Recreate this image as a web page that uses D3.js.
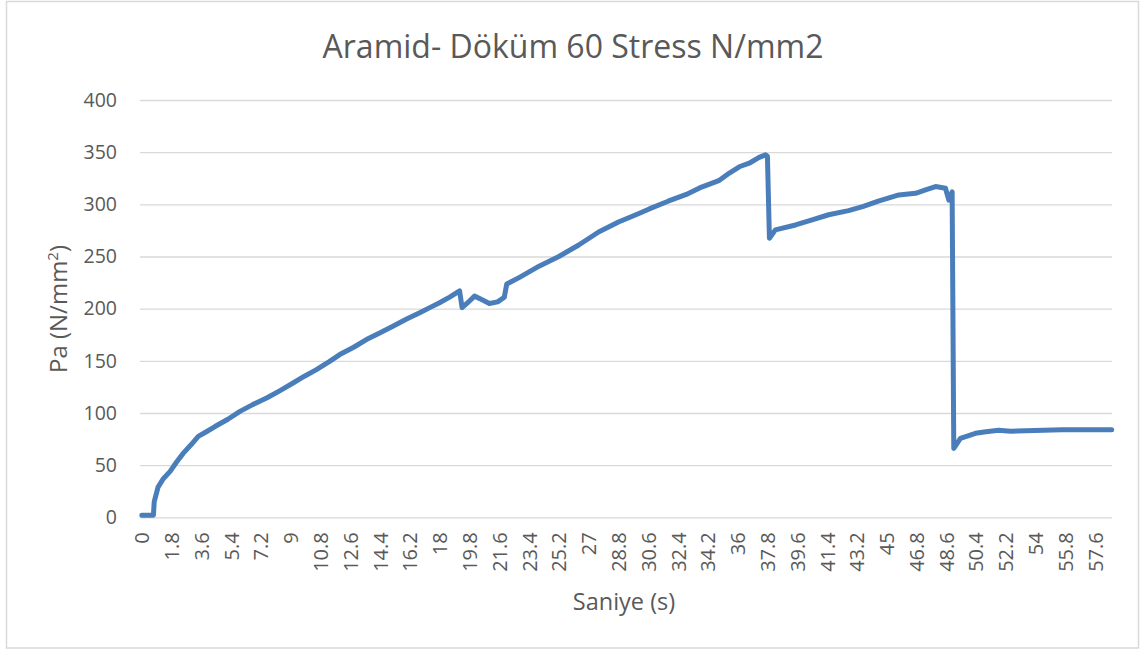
<!DOCTYPE html>
<html>
<head>
<meta charset="utf-8">
<script src="https://cdn.jsdelivr.net/npm/d3@7"></script>
<style>
  html, body { margin: 0; padding: 0; background: #ffffff; }
  svg { display: block; }
  text { font-family: "Open Sans", "Noto Sans", sans-serif; fill: #595959; }
</style>
</head>
<body>
<svg id="chart" width="1140" height="650"></svg>
<script>
// Test record: time (s) and stress (N/mm2)
const timeSec = [
  0, 0.7, 0.75, 0.98, 1.3, 1.71, 2.1, 2.51, 3.0, 3.41, 3.9, 4.42, 5.2, 5.93,
  6.7, 7.54, 8.3, 9.14, 9.8, 10.55, 11.3, 11.96, 12.8, 13.57, 14.4, 15.17,
  16.0, 16.79, 17.4, 17.99, 18.6, 19.2, 19.35, 19.69, 20.1, 20.5, 21.0, 21.5,
  21.9, 22.05, 22.82, 24.03, 25.2, 26.4, 27.6, 28.8, 30.0, 30.66, 31.8, 32.9,
  33.7, 34.9, 35.5, 36.1, 36.7, 37.3, 37.68, 37.8, 37.92, 38.28, 39.5, 40.5,
  41.5, 42.7, 43.6, 44.5, 45.74, 46.75, 47.4, 47.96, 48.56, 48.76, 48.96,
  49.06, 49.46, 50.37, 51.0, 51.77, 52.5, 53.4, 54.5, 55.6, 56.8, 58.6
];
const stress = [
  2, 2, 15, 29, 37, 44, 53, 61.5, 70, 77.5, 82, 87, 94, 101.5,
  108, 114.3, 121, 128.7, 135, 141.5, 149, 156, 163, 170.4, 177, 183.2,
  190, 196, 201, 205.7, 211, 217, 201, 205.7, 212, 209, 205, 206.5,
  211, 223.6, 230, 241, 250, 261, 273.5, 283, 291, 295.6, 303, 309.5,
  315.7, 323, 330, 336, 339.4, 345, 347.4, 346, 267.5, 275.5, 280.2, 285,
  290, 294, 298, 303, 309, 310.6, 314, 317, 315.4, 304, 312,
  66, 75.7, 80.5, 82, 83.5, 82.5, 83, 83.5, 84, 84, 84
];

const yTicks = [0, 50, 100, 150, 200, 250, 300, 350, 400];
const xTickLabels = [
  "0", "1.8", "3.6", "5.4", "7.2", "9", "10.8", "12.6", "14.4", "16.2", "18",
  "19.8", "21.6", "23.4", "25.2", "27", "28.8", "30.6", "32.4", "34.2", "36",
  "37.8", "39.6", "41.4", "43.2", "45", "46.8", "48.6", "50.4", "52.2", "54",
  "55.8", "57.6"
];

const titleText = "Aramid- Döküm 60 Stress N/mm2";
const xTitle = "Saniye (s)";

const svg = d3.select("#chart");
const plot = { left: 140, right: 1112, top: 100, bottom: 517.3 };

// chart outline
svg.append("rect")
  .attr("x", 6.5).attr("y", 1.5)
  .attr("width", 1132).attr("height", 646.5)
  .attr("fill", "#ffffff")
  .attr("stroke", "#d9d9d9")
  .attr("stroke-width", 1.5);

const x = d3.scaleLinear().domain([-0.05, 58.65]).range([plot.left + 1, plot.right + 0.5]);
const y = d3.scaleLinear().domain([0, 400]).range([plot.bottom, plot.top]);

// horizontal gridlines + y labels
const yAxis = d3.axisLeft(y)
  .tickValues(yTicks)
  .tickSize(-(plot.right - plot.left))
  .tickPadding(23)
  .tickFormat(d3.format("d"));
const gy = svg.append("g")
  .attr("transform", `translate(${plot.left},0)`)
  .call(yAxis);
gy.select(".domain").remove();
gy.selectAll(".tick line").attr("stroke", "#d9d9d9").attr("stroke-width", 1.3);
gy.selectAll(".tick text")
  .attr("font-size", 19.5)
  .attr("fill", "#595959")
  .style("font-family", '"Open Sans", sans-serif');

// x labels, rotated
const xAxis = d3.axisBottom(x)
  .tickValues(xTickLabels.map(Number))
  .tickSize(0)
  .tickFormat((d, i) => xTickLabels[i]);
const gx = svg.append("g")
  .attr("transform", `translate(0,${plot.bottom})`)
  .call(xAxis);
gx.select(".domain").remove();
gx.selectAll(".tick text")
  .attr("font-size", 20)
  .attr("fill", "#595959")
  .style("font-family", '"Open Sans", sans-serif')
  .attr("text-anchor", "end")
  .attr("transform", "translate(0,15) rotate(-90)")
  .attr("x", 0)
  .attr("y", 0)
  .attr("dy", "0.35em");

// stress curve
const points = timeSec.map((t, i) => [t, stress[i]]);
const line = d3.line().x(d => x(d[0])).y(d => y(d[1])).curve(d3.curveLinear);
svg.append("path")
  .datum(points)
  .attr("d", line)
  .attr("fill", "none")
  .attr("stroke", "#4a7ebb")
  .attr("stroke-width", 5)
  .attr("stroke-linejoin", "round")
  .attr("stroke-linecap", "round");

// titles
svg.append("text")
  .attr("x", 573).attr("y", 58)
  .attr("text-anchor", "middle")
  .attr("font-size", 32)
  .text(titleText);

svg.append("text")
  .attr("x", (plot.left + plot.right) / 2 - 2).attr("y", 610)
  .attr("text-anchor", "middle")
  .attr("font-size", 23.5)
  .text(xTitle);

const yTitle = svg.append("text")
  .attr("transform", "translate(67,309) rotate(-90)")
  .attr("text-anchor", "middle")
  .attr("font-size", 24);
yTitle.append("tspan").text("Pa (N/mm");
yTitle.append("tspan").attr("font-size", 15).attr("dy", -9).text("2");
yTitle.append("tspan").attr("dy", 9).text(")");
</script>
</body>
</html>
